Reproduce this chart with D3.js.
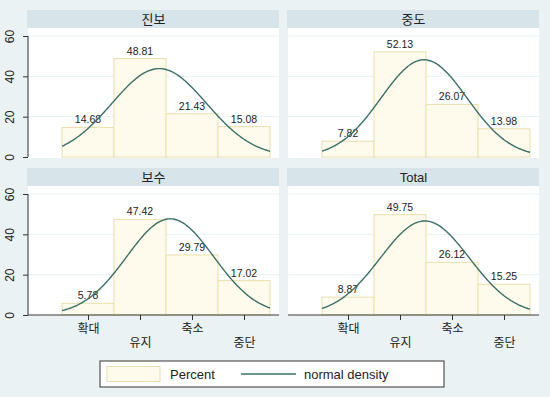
<!DOCTYPE html>
<html>
<head>
<meta charset="utf-8">
<script src="https://cdn.jsdelivr.net/npm/d3@7"></script>
<style>
  body { margin: 0; background: #eaf2f3; }
  text { font-family: "Liberation Sans", Arial, "Noto Sans CJK KR", sans-serif; }
</style>
</head>
<body>
<div id="chart"></div>
<script>
const categories = ["확대", "유지", "축소", "중단"];
const groups = ["진보", "중도", "보수", "Total"];
const percents = [
  [14.68, 48.81, 21.43, 15.08],
  [7.82, 52.13, 26.07, 13.98],
  [5.78, 47.42, 29.79, 17.02],
  [8.87, 49.75, 26.12, 15.25],
];
const yTicks = [0, 20, 40, 60];

const width = 550;
const height = 397;
const BG = "#eaf2f3";
const STRIP = "#d7e4ea";
const BAR_FILL = "#fffbec";
const BAR_STROKE = "#e8dfaa";
const CURVE = "#3b7068";
const TEXT = "#222";

const svg = d3
  .select("#chart")
  .append("svg")
  .attr("width", width)
  .attr("height", height);

svg.append("rect").attr("width", width).attr("height", height).attr("fill", BG);

// panel placement
const panelW = 251;
const plotH = 130;
const stripH = 18;
const panels = [
  { x: 28, y: 10 },
  { x: 288, y: 10 },
  { x: 28, y: 168 },
  { x: 288, y: 168 },
];

const xScale = d3.scaleLinear().domain([1 - 60 / 52, 1 - 60 / 52 + panelW / 52]).range([0, panelW]);
const yScale = d3.scaleLinear().domain([0, 60]).range([plotH - 1, plotH - 1 - 121]);

// normal density scaled to percent (bin width 1)
function normalCurve(p) {
  const total = d3.sum(p);
  const mean = d3.sum(p, (d, i) => (i + 1) * d) / total;
  const ex2 = d3.sum(p, (d, i) => (i + 1) * (i + 1) * d) / total;
  const sd = Math.sqrt(ex2 - mean * mean);
  const pts = d3.range(0, 201).map((k) => {
    const x = 0.5 + (4 * k) / 200;
    const z = (x - mean) / sd;
    return [x, (100 / (sd * Math.sqrt(2 * Math.PI))) * Math.exp(-0.5 * z * z)];
  });
  return pts;
}

const line = d3
  .line()
  .x((d) => xScale(d[0]))
  .y((d) => yScale(d[1]))
  .curve(d3.curveBasis);

groups.forEach((name, gi) => {
  const pos = panels[gi];
  const g = svg.append("g").attr("transform", `translate(${pos.x}, ${pos.y})`);

  // strip
  g.append("rect")
    .attr("x", -1)
    .attr("y", 0)
    .attr("width", panelW + 1)
    .attr("height", stripH)
    .attr("fill", STRIP);
  g.append("text")
    .attr("x", panelW / 2)
    .attr("y", 14)
    .attr("text-anchor", "middle")
    .style("font-size", "13px")
    .attr("fill", TEXT)
    .text(name);

  const plot = g.append("g").attr("transform", `translate(0, ${stripH})`);
  plot.append("rect").attr("width", panelW).attr("height", plotH).attr("fill", "#fff");

  // gridlines
  plot
    .selectAll(".grid")
    .data(yTicks.slice(1))
    .join("line")
    .attr("x1", 0)
    .attr("x2", panelW)
    .attr("y1", (d) => yScale(d))
    .attr("y2", (d) => yScale(d))
    .attr("stroke", "#e9f1f3")
    .attr("stroke-width", 1);

  // bars
  plot
    .selectAll(".bar")
    .data(percents[gi])
    .join("rect")
    .attr("x", (d, i) => xScale(i + 0.5))
    .attr("y", (d) => yScale(d))
    .attr("width", xScale(1.5) - xScale(0.5))
    .attr("height", (d) => yScale(0) - yScale(d))
    .attr("fill", BAR_FILL)
    .attr("stroke", BAR_STROKE)
    .attr("stroke-width", 1);

  // bar labels
  plot
    .selectAll(".lbl")
    .data(percents[gi])
    .join("text")
    .attr("x", (d, i) => xScale(i + 1))
    .attr("y", (d) => yScale(d) - 4)
    .attr("text-anchor", "middle")
    .style("font-size", "10.5px")
    .attr("fill", TEXT)
    .text((d) => d.toFixed(2));

  // normal density
  plot
    .append("path")
    .attr("d", line(normalCurve(percents[gi])))
    .attr("fill", "none")
    .attr("stroke", CURVE)
    .attr("stroke-width", 1.4);

  // y axis on left column
  if (gi % 2 === 0) {
    const yAxis = d3.axisLeft(yScale).tickValues(yTicks).tickSize(5).tickSizeOuter(0);
    const ya = plot.append("g").call(yAxis);
    ya.select(".domain").attr("stroke", "#333").attr("d", `M0,${yScale(0)}V${yScale(60)}`);
    ya.selectAll(".tick line").attr("stroke", "#333");
    ya.selectAll(".tick text")
      .attr("transform", "rotate(-90)")
      .attr("x", 0)
      .attr("y", -14)
      .attr("dy", 0)
      .attr("text-anchor", "middle")
      .style("font-size", "12px")
      .attr("fill", TEXT)
      .style("font-family", "'Liberation Sans', Arial, sans-serif");
  }

  // x axis on bottom row
  if (gi >= 2) {
    const xAxis = d3
      .axisBottom(xScale)
      .tickValues([1, 2, 3, 4])
      .tickSize(5)
      .tickSizeOuter(0)
      .tickFormat((d) => categories[d - 1]);
    const xa = plot.append("g").attr("transform", `translate(0, ${yScale(0)})`).call(xAxis);
    xa.select(".domain").attr("stroke", "#333").attr("d", `M0,0H${panelW}`);
    xa.selectAll(".tick line").attr("stroke", "#333");
    xa.selectAll(".tick text")
      .attr("y", (d, i) => (i % 2 === 0 ? 9 : 23))
      .style("font-size", "12px")
      .attr("fill", TEXT);
  }
});

// Legend
const legend = svg.append("g").attr("transform", "translate(100, 361)");
legend
  .append("rect")
  .attr("width", 344)
  .attr("height", 26)
  .attr("fill", "#fff")
  .attr("stroke", "#333")
  .attr("stroke-width", 1);
legend
  .append("rect")
  .attr("x", 7)
  .attr("y", 5.5)
  .attr("width", 53)
  .attr("height", 15)
  .attr("fill", BAR_FILL)
  .attr("stroke", BAR_STROKE);
legend
  .append("text")
  .attr("x", 70)
  .attr("y", 18)
  .style("font-size", "13px")
  .attr("fill", TEXT)
  .text("Percent");
legend
  .append("line")
  .attr("x1", 141)
  .attr("x2", 196)
  .attr("y1", 13)
  .attr("y2", 13)
  .attr("stroke", CURVE)
  .attr("stroke-width", 1.4);
legend
  .append("text")
  .attr("x", 204)
  .attr("y", 18)
  .style("font-size", "13px")
  .attr("fill", TEXT)
  .text("normal density");
</script>
</body>
</html>
